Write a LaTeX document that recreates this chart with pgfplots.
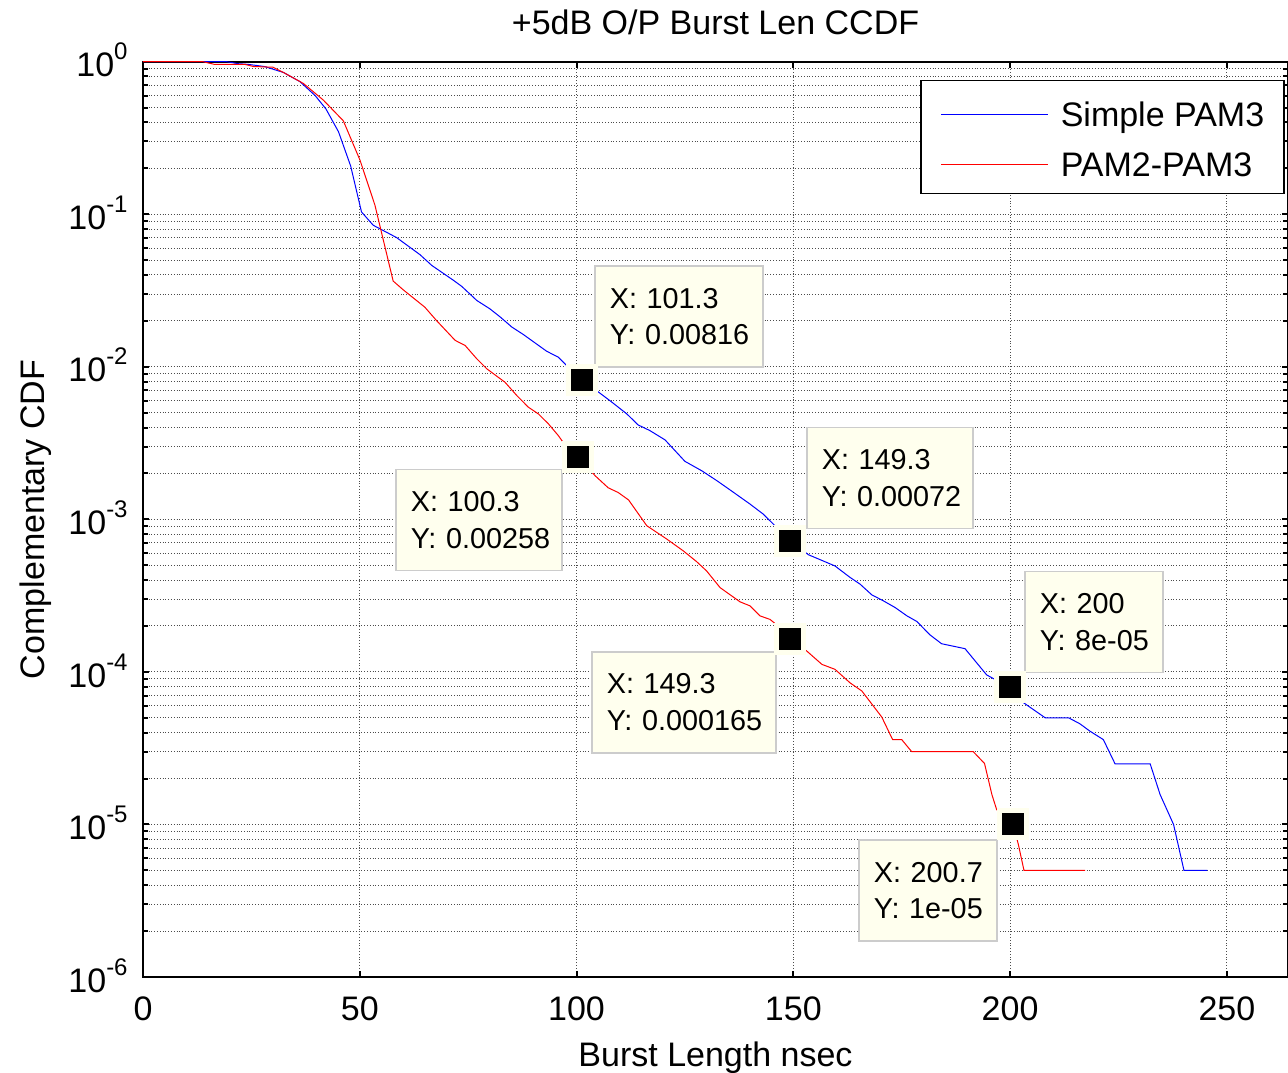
\documentclass[border=0pt]{standalone}
\usepackage{fontspec}
\setmainfont{Liberation Sans}
\usepackage{pgfplots}
\pgfplotsset{compat=1.18}
\definecolor{tipbg}{HTML}{FFFFEE}
\definecolor{tipedge}{HTML}{CCCCCC}
\newcommand{\tsup}[1]{\raisebox{8.5pt}{\fontsize{12}{12}\selectfont#1}}
\tikzset{tip/.style={draw=tipedge, fill=tipbg, line width=0.8pt, anchor=north west,
    inner xsep=7.5pt, inner ysep=0pt, minimum height=50.5pt, align=left,
    font=\fontsize{14.4}{18.35}\selectfont}}
\begin{document}
\begin{tikzpicture}
\begin{axis}[
  name=ax,
  scale only axis, width=572.5pt, height=457.65pt,
  xmin=0, xmax=264.1, ymin=1e-6, ymax=1, ymode=log,
  xtick={0,50,100,150,200,250},
  ytick={1e-6,1e-5,1e-4,1e-3,1e-2,1e-1,1},
  yticklabels={10\tsup{-6},10\tsup{-5},10\tsup{-4},10\tsup{-3},10\tsup{-2},10\tsup{-1},10\tsup{0}},
  grid=both,
  major grid style={densely dotted, black!70, line width=0.5pt},
  minor grid style={densely dotted, black!70, line width=0.5pt},
  tick align=inside, major tick length=3pt, minor tick length=2.5pt,
  every tick/.style={black, line width=1pt},
  axis line style={black, line width=1pt},
  font=\fontsize{17}{20}\selectfont,
  /pgf/number format/assume math mode=true,
  xticklabel style={anchor=north, inner sep=0pt, yshift=-9.5pt},
  yticklabel style={anchor=base east, inner sep=0pt, xshift=-7.5pt, yshift=-7.6pt},
  title={+5dB O/P Burst Len CCDF},
  every axis title/.style={at={(0.5,1)}, anchor=base, yshift=13.5pt},
  xlabel={Burst Length nsec},
  xlabel style={at={(0.5,0)}, anchor=base, yshift=-44.5pt},
  ylabel={Complementary CDF},
  every axis y label/.style={at={(0,0.5)}, rotate=90, anchor=base, yshift=49pt},
  legend style={at={(1,1)}, anchor=north east, xshift=-1.5pt, yshift=-9pt,
    line width=0.8pt, fill=white, inner xsep=10pt, inner ysep=8pt,
    font=\fontsize{17}{20}\selectfont,
    nodes={inner sep=0pt, text height=15.2pt, text depth=0.3pt},
    row sep=9.5pt, column sep=6pt},
  legend cell align=left,
]
\addplot[blue, line width=0.5pt,
  legend image code/.code={\draw[draw=blue, line width=0.5pt] (0pt,-1.35pt) -- (53.5pt,-1.35pt);}] coordinates {
(0,1) (19.3,1) (22,0.97) (24.3,0.96) (28,0.93) (32.4,0.85) (36.2,0.74) (39.7,0.60)
(42.2,0.49) (45.1,0.347) (47.9,0.207) (50.4,0.1035) (53.1,0.0847) (58.5,0.0703)
(63.9,0.0543) (66.6,0.0462) (71.6,0.0369) (73.5,0.0337) (77.0,0.0272) (80.0,0.0240)
(82.4,0.0212) (85.1,0.0182) (87.7,0.0163) (93.1,0.01265) (95.8,0.01156) (97.3,0.01047)
(101.3,0.00816) (104.6,0.00698) (107.7,0.006) (111.6,0.00491) (114.2,0.00416)
(116.9,0.00382) (120.4,0.00332) (125.0,0.0024) (128.9,0.00208) (132.4,0.00179)
(135.4,0.00156) (140.0,0.00126) (143.1,0.00108) (145.4,0.00093) (149.3,0.00072)
(153.5,0.000586) (159.6,0.000495) (163.1,0.000416) (165.4,0.000376) (168.1,0.00032)
(170.8,0.000292) (173.5,0.000264) (176.2,0.000233) (178.5,0.000214) (181.5,0.000175)
(184.2,0.000153) (189.6,0.000142) (194.6,0.0000955) (196.5,0.0000893) (200,0.00008)
(203.1,0.0000628) (208.1,0.00005) (213.5,0.00005) (216.1,0.0000457) (218.4,0.0000409)
(221.5,0.000036) (224.2,0.000025) (232.3,0.000025) (234.6,0.0000157) (237.7,0.00001)
(240.1,0.000005) (245.5,0.000005)
};
\addlegendentry{Simple PAM3}
\addplot[red, line width=0.5pt,
  legend image code/.code={\draw[draw=red, line width=0.5pt] (0pt,-1.35pt) -- (53.5pt,-1.35pt);}] coordinates {
(0,1) (13.8,1) (16.5,0.96) (23.5,0.96) (25.5,0.93) (30,0.92) (32.4,0.85) (37,0.72)
(41.6,0.56) (46.2,0.41) (50.06,0.226) (53.5,0.1146) (57.7,0.0365) (60.0,0.032)
(65.0,0.0246) (67.7,0.0201) (72.0,0.0149) (74.3,0.0138) (77.0,0.01127) (79.3,0.0097)
(83.5,0.00792) (86.2,0.00649) (88.9,0.00543) (91.2,0.00491) (93.5,0.00423)
(95.8,0.00354) (96.9,0.0032) (100.3,0.00258) (104.3,0.00193) (107.3,0.00161)
(109.6,0.0015) (112.0,0.00134) (116.2,0.000908) (120.8,0.000743) (124.6,0.000622)
(127.7,0.000528) (130.0,0.000459) (133.1,0.000357) (137.7,0.000288) (140.0,0.000271)
(142.3,0.000233) (144.6,0.000221) (146.5,0.0002) (149.3,0.000165) (153.1,0.000137)
(156.6,0.000112) (159.6,0.000104) (163.1,0.0000847) (165.8,0.000075) (170.4,0.0000506)
(172.9,0.000036) (175.0,0.000036) (177.3,0.00003) (191.5,0.00003) (194.1,0.0000251)
(195.8,0.0000157) (196.9,0.0000125) (200.7,0.00001) (201.9,0.0000074) (203.2,0.000005)
(217.3,0.000005)
};
\addlegendentry{PAM2-PAM3}
\addplot[only marks, mark=square*, mark size=6.75pt, forget plot,
  mark options={fill=black, draw=tipbg, line width=2.5pt}] coordinates {
(101.3,0.00816) (100.3,0.00258) (149.3,0.00072) (149.3,0.000165) (200,0.00008) (200.7,0.00001)
};
\node[tip, text width=69pt] at (axis cs:104.04,0.04625) {\mbox{X: 101.3}\\\mbox{Y: 0.00816}};
\node[tip, text width=68pt] at (axis cs:58.13,0.002149) {\mbox{X: 100.3}\\\mbox{Y: 0.00258}};
\node[tip, text width=68pt] at (axis cs:152.94,0.004055) {\mbox{X: 149.3}\\\mbox{Y: 0.00072}};
\node[tip, text width=77pt] at (axis cs:103.34,0.00013716) {\mbox{X: 149.3}\\\mbox{Y: 0.000165}};
\node[tip, text width=54pt] at (axis cs:203.23,0.0004597) {\mbox{X: 200}\\\mbox{Y: 8e-05}};
\node[tip, text width=54pt] at (axis cs:164.94,0.000007995) {\mbox{X: 200.7}\\\mbox{Y: 1e-05}};
\coordinate (bl) at (rel axis cs:0,0);
\coordinate (tr) at (rel axis cs:1,1);
\end{axis}
\pgfresetboundingbox
\useasboundingbox ([xshift=-71.5pt,yshift=-48pt]bl) rectangle ([yshift=30.85pt]tr);
\end{tikzpicture}
\end{document}
